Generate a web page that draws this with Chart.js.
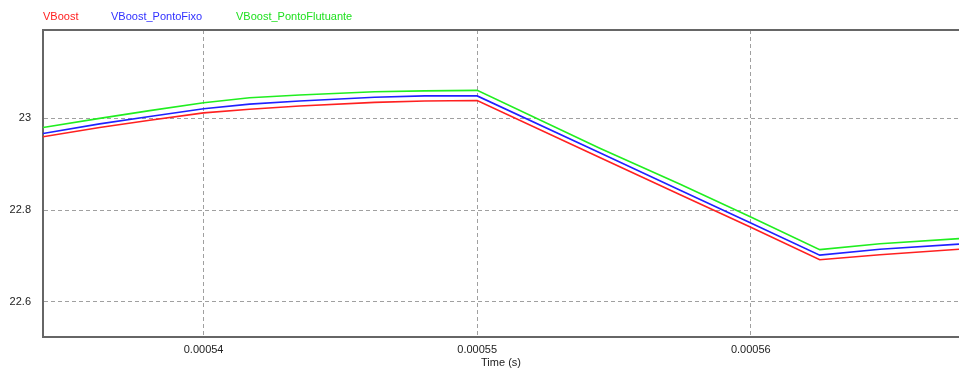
<!DOCTYPE html>
<html>
<head>
<meta charset="utf-8">
<script src="https://cdn.jsdelivr.net/npm/chart.js@4/dist/chart.umd.min.js"></script>
<style>
  html, body { margin: 0; padding: 0; background: #fff; }
  #wrap { position: relative; width: 959px; height: 370px; }
  .lg { position: absolute; top: 10px; font: 11px "Liberation Sans", Arial, sans-serif; line-height: 12px; white-space: nowrap; }
</style>
</head>
<body>
<div id="wrap">
  <canvas id="c" width="959" height="370"></canvas>
  <span class="lg" style="left:43px;color:#ff2020">VBoost</span>
  <span class="lg" style="left:111px;color:#3030ff">VBoost_PontoFixo</span>
  <span class="lg" style="left:236px;color:#20e020">VBoost_PontoFlutuante</span>
</div>
<script>
// Time samples (s)
const times = [0.00053413, 0.00053620, 0.00053803, 0.00054000, 0.00054168, 0.00054351, 0.00054625, 0.00054808, 0.00055000, 0.00055448, 0.00055740, 0.00056000, 0.00056252, 0.00056472, 0.00056761];
// Series values (V)
const vBoost           = [22.960, 22.980, 22.996, 23.012, 23.020, 23.027, 23.035, 23.038, 23.039, 22.915, 22.834, 22.763, 22.692, 22.703, 22.715];
const vBoostPontoFixo  = [22.967, 22.988, 23.004, 23.021, 23.031, 23.038, 23.046, 23.049, 23.049, 22.925, 22.844, 22.772, 22.702, 22.715, 22.726];
const vBoostPontoFlut  = [22.980, 23.000, 23.017, 23.034, 23.045, 23.051, 23.058, 23.060, 23.061, 22.935, 22.857, 22.785, 22.714, 22.727, 22.738];
// Tick values
const xTicks = [0.00054, 0.00055, 0.00056];
const yTicks = [22.6, 22.8, 23];
const xMin = 0.00053413, xMax = 0.00056761;
const yMin = 22.5237, yMax = 23.1926;

const pts = arr => arr.map((v, i) => ({ x: times[i], y: v }));

const topBorder = {
  id: 'topBorder',
  afterDraw(chart) {
    const { ctx, chartArea } = chart;
    ctx.save();
    ctx.strokeStyle = '#666';
    ctx.lineWidth = 2;
    ctx.beginPath();
    ctx.moveTo(chartArea.left - 1, chartArea.top);
    ctx.lineTo(chart.width, chartArea.top);
    ctx.stroke();
    ctx.restore();
  }
};

const font = { family: '"Liberation Sans", Arial, sans-serif', size: 11 };

new Chart(document.getElementById('c'), {
  type: 'line',
  data: {
    datasets: [
      { label: 'VBoost', data: pts(vBoost), borderColor: '#ff2020', borderWidth: 1.6, pointRadius: 0, tension: 0, order: 3 },
      { label: 'VBoost_PontoFixo', data: pts(vBoostPontoFixo), borderColor: '#2020ff', borderWidth: 1.6, pointRadius: 0, tension: 0, order: 2 },
      { label: 'VBoost_PontoFlutuante', data: pts(vBoostPontoFlut), borderColor: '#20ee20', borderWidth: 1.6, pointRadius: 0, tension: 0, order: 1 }
    ]
  },
  options: {
    responsive: false,
    animation: false,
    layout: { padding: { top: 30, right: 0, left: 0, bottom: 0 } },
    plugins: { legend: { display: false }, tooltip: { enabled: false } },
    scales: {
      x: {
        type: 'linear',
        min: xMin, max: xMax,
        afterBuildTicks: s => { s.ticks = xTicks.map(v => ({ value: v })); },
        afterFit: s => { s.height = 33; },
        ticks: { padding: 6, color: '#222', font, maxRotation: 0, callback: v => v.toFixed(5) },
        grid: { color: '#a0a0a0', drawTicks: false, tickLength: 0 },
        border: { display: true, color: '#666', width: 2, dash: [4, 3] },
        title: { display: true, text: 'Time (s)', color: '#222', font, padding: { top: 0, bottom: 0 } }
      },
      y: {
        type: 'linear',
        min: yMin, max: yMax,
        afterBuildTicks: s => { s.ticks = yTicks.map(v => ({ value: v })); },
        afterFit: s => { s.width = 43; },
        ticks: { padding: 12, color: '#222', font, callback: v => String(Math.round(v * 10) / 10) },
        grid: { color: '#a0a0a0', drawTicks: false, tickLength: 0 },
        border: { display: true, color: '#666', width: 2, dash: [4, 3] }
      }
    }
  },
  plugins: [topBorder]
});
</script>
</body>
</html>
